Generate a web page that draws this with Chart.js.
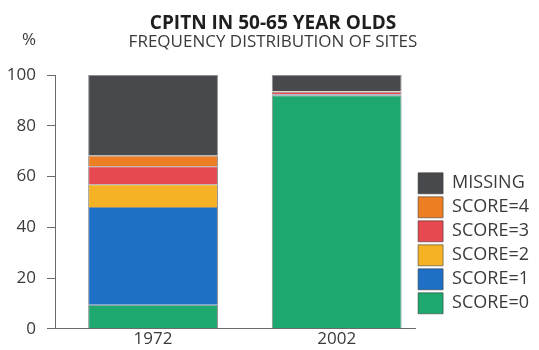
<!DOCTYPE html>
<html>
<head>
<meta charset="utf-8">
<script src="https://cdn.jsdelivr.net/npm/chart.js@4"></script>
<style>
  html, body { margin: 0; padding: 0; background: #fff; }
  #wrap { width: 539px; height: 350px; }
</style>
</head>
<body>
<div id="wrap"><canvas id="cpitnChart"></canvas></div>
<script>
// data
const years = ['1972', '2002'];
const yTicks = [0, 20, 40, 60, 80, 100];
const score0 = [9.5, 92];
const score1 = [38.5, 0.4];
const score2 = [9, 0];
const score3 = [7, 1];
const score4 = [4.3, 0.2];
const missing = [31.7, 6.4];

const series = [
  { label: 'SCORE=0', values: score0, color: '#1ea86f' },
  { label: 'SCORE=1', values: score1, color: '#1e6fc6' },
  { label: 'SCORE=2', values: score2, color: '#f5b224' },
  { label: 'SCORE=3', values: score3, color: '#e8484f' },
  { label: 'SCORE=4', values: score4, color: '#ee7e24' },
  { label: 'MISSING', values: missing, color: '#48494c' }
];

const font = "'Open Sans', 'Noto Sans', sans-serif";
const textColor = '#3a3a3a';
const axisColor = '#6a6a6a';

// "%" above the y axis
const percentLabel = {
  id: 'percentLabel',
  afterDraw(chart) {
    const { ctx, chartArea } = chart;
    ctx.save();
    ctx.font = '17px ' + font;
    ctx.fillStyle = textColor;
    ctx.textAlign = 'center';
    ctx.textBaseline = 'middle';
    ctx.fillText('%', chartArea.left - 26, chartArea.top - 35);
    ctx.restore();
  }
};

// lift the legend block a little off the x axis
const legendLift = {
  id: 'legendLift',
  afterLayout(chart) {
    chart.legend.top -= 12;
    chart.legend.bottom -= 12;
  }
};

new Chart(document.getElementById('cpitnChart'), {
  type: 'bar',
  data: {
    datasets: series.map(s => ({
      label: s.label,
      data: years.map((_, i) => ({ x: i, y: s.values[i] })),
      backgroundColor: s.color,
      borderColor: 'rgba(50,50,50,0.55)',
      borderWidth: 1,
      barPercentage: 0.707,
      categoryPercentage: 1
    }))
  },
  options: {
    responsive: true,
    maintainAspectRatio: false,
    animation: false,
    layout: { padding: { left: 7, right: 0, top: 0, bottom: 0 } },
    plugins: {
      title: {
        display: true,
        text: 'CPITN IN 50-65 YEAR OLDS',
        color: '#1e1e1e',
        font: { family: font, size: 19, weight: 'bold', lineHeight: 1 },
        padding: { top: 14, bottom: 1 }
      },
      subtitle: {
        display: true,
        text: 'FREQUENCY DISTRIBUTION OF SITES',
        color: textColor,
        font: { family: font, size: 17, lineHeight: 1 },
        padding: { top: 0, bottom: 24 }
      },
      legend: {
        position: 'right',
        align: 'end',
        fullSize: false,
        reverse: true,
        labels: {
          boxWidth: 25,
          boxHeight: 21,
          padding: 3,
          color: textColor,
          font: { family: font, size: 18 }
        }
      },
      tooltip: { enabled: false }
    },
    scales: {
      x: {
        type: 'linear',
        stacked: true,
        offset: false,
        min: -0.534,
        max: 1.427,
        grid: { display: false, drawTicks: false },
        border: { color: axisColor, width: 1 },
        afterBuildTicks: scale => { scale.ticks = years.map((_, i) => ({ value: i })); },
        afterFit: scale => { scale.height = 18; },
        ticks: {
          callback: v => years[v],
          color: textColor,
          font: { family: font, size: 17 },
          padding: 0,
          maxRotation: 0
        }
      },
      y: {
        stacked: true,
        min: 0,
        max: 100,
        afterBuildTicks: scale => { scale.ticks = yTicks.map(v => ({ value: v })); },
        afterFit: scale => { scale.width = 48; },
        grid: { drawOnChartArea: false, tickLength: 8, color: axisColor },
        border: { color: axisColor, width: 1 },
        ticks: {
          color: textColor,
          font: { family: font, size: 17 },
          padding: 11
        }
      }
    }
  },
  plugins: [percentLabel, legendLift]
});
</script>
</body>
</html>
